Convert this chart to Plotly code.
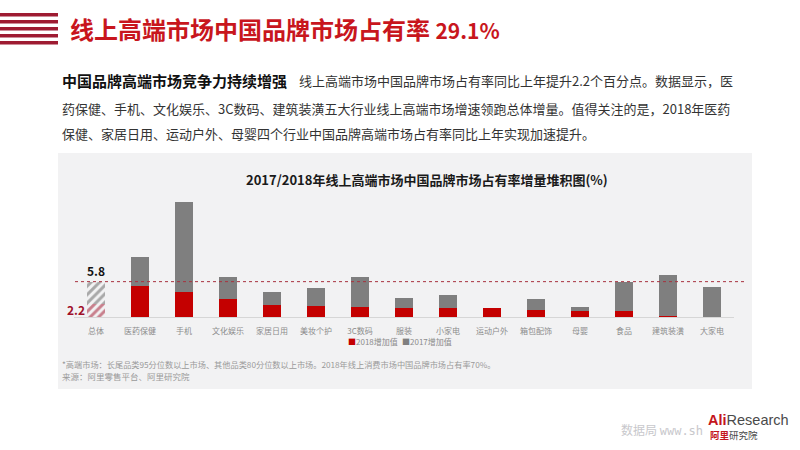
import plotly.graph_objects as go

# categories and stacked increments (percentage points)
categories = ["总体", "医药保健", "手机", "文化娱乐", "家居日用", "美妆个护", "3C数码", "服装",
              "小家电", "运动户外", "箱包配饰", "母婴", "食品", "建筑装潢", "大家电"]
inc_2018 = [2.2, 5.1, 4.1, 2.9, 2.0, 1.75, 1.6, 1.5, 1.4, 1.5, 1.2, 1.0, 1.0, 0.2, 0.0]
inc_2017 = [3.6, 4.75, 14.8, 3.6, 2.05, 3.0, 5.0, 1.6, 2.15, 0.0, 1.8, 0.65, 4.7, 6.75, 5.0]
overall_total = 5.8

W, H = 800, 450
RED = "#c40000"
GRAY = "#7f7f7f"
PANEL = "#f2f2f3"
CJK = "Noto Sans CJK SC"


def px(x):
    return x / W


def py(y):
    return 1 - y / H


fig = go.Figure()

# hatched "总体" bar
fig.add_trace(go.Bar(
    x=categories[:1], y=inc_2018[:1], width=0.4, showlegend=False, hoverinfo="skip",
    marker=dict(color=PANEL, line=dict(width=0),
                pattern=dict(shape="/", fgcolor="#9e0c26", bgcolor=PANEL, size=6, solidity=0.5)),
))
fig.add_trace(go.Bar(
    x=categories[:1], y=inc_2017[:1], width=0.4, showlegend=False, hoverinfo="skip",
    marker=dict(color=PANEL, line=dict(width=0),
                pattern=dict(shape="/", fgcolor="#5e5e5e", bgcolor=PANEL, size=6, solidity=0.5)),
))

# industry bars
fig.add_trace(go.Bar(
    x=categories[1:], y=inc_2018[1:], width=0.4, name="2018增加值", showlegend=False,
    marker=dict(color=RED, line=dict(width=0)),
))
fig.add_trace(go.Bar(
    x=categories[1:], y=inc_2017[1:], width=0.4, name="2017增加值", showlegend=False,
    marker=dict(color=GRAY, line=dict(width=0)),
))

shapes = []
# chart panel
shapes.append(dict(type="rect", xref="paper", yref="paper", layer="below",
                   x0=px(58), x1=px(752), y0=py(389), y1=py(153),
                   fillcolor=PANEL, line=dict(width=0)))
# title stripes
for i in range(5):
    top = 13 + i * 7
    shapes.append(dict(type="rect", xref="paper", yref="paper",
                       x0=0, x1=px(58), y0=py(top + 3.5), y1=py(top),
                       fillcolor="#9e1b32", line=dict(width=0)))
# overall reference line
shapes.append(dict(type="line", xref="paper", yref="y",
                   x0=px(75), x1=px(744), y0=overall_total, y1=overall_total,
                   line=dict(color="#a8313e", width=1, dash="dot")))

annotations = [
    dict(x=px(68), y=py(29), xref="paper", yref="paper", xanchor="left", yanchor="middle",
         text="<b>线上高端市场中国品牌市场占有率 <span style='font-size:21px'>29.1%</span></b>",
         showarrow=False, font=dict(family=CJK, size=24, color="#c8161d")),
    dict(x=px(60), y=py(81), xref="paper", yref="paper", xanchor="left", yanchor="middle",
         text="<b>中国品牌高端市场竞争力持续增强</b>", showarrow=False,
         font=dict(family=CJK, size=15, color="#111111")),
    dict(x=px(297), y=py(81), xref="paper", yref="paper", xanchor="left", yanchor="middle",
         text="线上高端市场中国品牌市场占有率同比上年提升2.2个百分点。数据显示，医", showarrow=False,
         font=dict(family=CJK, size=13, color="#333333")),
    dict(x=px(60), y=py(108), xref="paper", yref="paper", xanchor="left", yanchor="middle",
         text="药保健、手机、文化娱乐、3C数码、建筑装潢五大行业线上高端市场增速领跑总体增量。值得关注的是，2018年医药",
         showarrow=False, font=dict(family=CJK, size=13, color="#333333")),
    dict(x=px(60), y=py(133), xref="paper", yref="paper", xanchor="left", yanchor="middle",
         text="保健、家居日用、运动户外、母婴四个行业中国品牌高端市场占有率同比上年实现加速提升。",
         showarrow=False, font=dict(family=CJK, size=13, color="#333333")),
    dict(x=px(427), y=py(179), xref="paper", yref="paper", xanchor="center", yanchor="middle",
         text="<b>2017/2018年线上高端市场中国品牌市场占有率增量堆积图(%)</b>", showarrow=False,
         font=dict(family=CJK, size=13, color="#1a1a1a")),
    # overall labels
    dict(x=categories[0], y=overall_total, xref="x", yref="y", yanchor="bottom", yshift=1,
         text="<b>5.8</b>", showarrow=False, font=dict(family=CJK, size=12, color="#111111")),
    dict(x=categories[0], y=0, xref="x", yref="y", xanchor="right", yanchor="bottom", xshift=-9,
         yshift=-3, text="<b>%.1f</b>" % inc_2018[0], showarrow=False,
         font=dict(family=CJK, size=12, color="#a0102a")),
    # legend
    dict(x=px(346), y=py(341), xref="paper", yref="paper", xanchor="left", yanchor="middle",
         text="<span style='color:%s'>■</span>2018增加值" % RED, showarrow=False,
         font=dict(family=CJK, size=8, color="#8c8c8c")),
    dict(x=px(400), y=py(341), xref="paper", yref="paper", xanchor="left", yanchor="middle",
         text="<span style='color:%s'>■</span>2017增加值" % GRAY, showarrow=False,
         font=dict(family=CJK, size=8, color="#8c8c8c")),
    # footnotes
    dict(x=px(60), y=py(364), xref="paper", yref="paper", xanchor="left", yanchor="middle",
         text="*高端市场：长尾品类95分位数以上市场、其他品类80分位数以上市场。2018年线上消费市场中国品牌市场占有率70%。",
         showarrow=False, font=dict(family=CJK, size=8.2, color="#9a9a9a")),
    dict(x=px(60), y=py(376), xref="paper", yref="paper", xanchor="left", yanchor="middle",
         text="来源：阿里零售平台、阿里研究院", showarrow=False,
         font=dict(family=CJK, size=8.5, color="#9a9a9a")),
    # watermark and logo
    dict(x=px(705), y=py(429), xref="paper", yref="paper", xanchor="right", yanchor="middle",
         text="数据局 <span style='font-family:DejaVu Sans Mono'>www.sh</span>", showarrow=False,
         font=dict(family=CJK, size=12, color="#c8c8cc")),
    dict(x=px(706), y=py(420), xref="paper", yref="paper", xanchor="left", yanchor="middle",
         text="<b><span style='color:#c4161c'>Ali</span></b><span style='color:#4a4a4a'>Research</span>",
         showarrow=False, font=dict(family="Liberation Sans", size=14.5)),
    dict(x=px(708), y=py(435), xref="paper", yref="paper", xanchor="left", yanchor="middle",
         text="<b><span style='color:#c4161c'>阿里</span></b><span style='color:#4a4a4a'>研究院</span>",
         showarrow=False, font=dict(family=CJK, size=9.5)),
]

fig.update_layout(
    width=W, height=H,
    margin=dict(l=0, r=0, t=0, b=0),
    paper_bgcolor="white", plot_bgcolor="rgba(0,0,0,0)",
    barmode="stack", bargap=0, showlegend=False,
    shapes=shapes, annotations=annotations,
    font=dict(family=CJK),
    xaxis=dict(domain=[px(74), px(734)], categoryorder="array", categoryarray=categories,
               range=[-0.5, len(categories) - 0.5],
               showline=True, linecolor="#d6d6d6", linewidth=1, showgrid=False, ticks="",
               tickfont=dict(family=CJK, size=8, color="#8c8c8c"), ticklabelstandoff=6,
               fixedrange=True),
    yaxis=dict(domain=[py(317), py(189)], range=[0, 21], visible=False, fixedrange=True),
)

fig.write_html("out.html", config={"displayModeBar": False},
               post_script="document.body.style.margin='0';")
